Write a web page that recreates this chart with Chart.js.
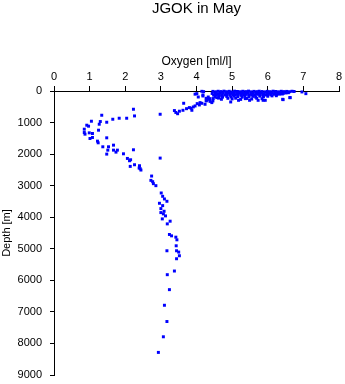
<!DOCTYPE html>
<html><head><meta charset="utf-8">
<script src="https://cdn.jsdelivr.net/npm/chart.js@4"></script>
<style>html,body{margin:0;padding:0;background:#fff}#wrap{width:345px;height:384px}</style>
</head><body><div id="wrap"><canvas id="c" width="345" height="384"></canvas></div>
<script>
// ---- data: [oxygen ml/l, depth m] ----
const chartTitle = 'JGOK in May';
const xTitle = 'Oxygen [ml/l]';
const yTitle = 'Depth [m]';
const oxygenTicks = [0, 1, 2, 3, 4, 5, 6, 7, 8];
const depthTicks = [0, 1000, 2000, 3000, 4000, 5000, 6000, 7000, 8000, 9000];

const surfaceRowA = [[4.46,12],[4.54,25],[4.61,8],[4.69,18],[4.77,5],[4.84,22],[4.92,10],[5.00,28],[5.07,6],[5.15,15],[5.23,24],[5.30,9],[5.38,19],[5.46,4],[5.53,26],[5.61,12],[5.69,20],[5.76,7],[5.84,17],[5.92,27],[5.99,11],[6.07,21],[6.15,6],[6.22,16],[6.30,25],[6.38,9],[6.45,19],[6.53,13],[6.61,23],[6.68,8],[6.74,15]];
const surfaceRowB = [[4.44,78],[4.52,62],[4.60,85],[4.67,70],[4.75,58],[4.83,88],[4.90,66],[4.98,75],[5.06,60],[5.13,82],[5.21,68],[5.29,57],[5.36,79],[5.44,64],[5.52,86],[5.59,72],[5.67,59],[5.75,77],[5.82,65],[5.90,84],[5.98,61],[6.05,74],[6.13,56],[6.21,80],[6.28,67],[6.36,58],[6.44,71],[6.51,62],[6.58,54]];
const surfaceRowC = [[4.48,130],[4.56,112],[4.63,138],[4.71,118],[4.79,126],[4.86,108],[4.94,135],[5.02,115],[5.09,128],[5.17,110],[5.25,137],[5.32,120],[5.40,106],[5.48,132],[5.55,116],[5.63,124],[5.71,105],[5.78,134],[5.86,113],[5.94,127],[6.01,109],[6.09,121],[6.17,104],[6.25,116],[6.33,100],[6.41,95]];
const surfaceRowD = [[4.52,182],[4.64,165],[4.73,195],[4.85,172],[4.97,188],[5.05,162],[5.16,178],[5.28,196],[5.36,168],[5.47,185],[5.58,170],[5.66,192],[5.78,163],[5.88,180],[6.00,166],[6.12,155],[6.24,150]];
const surfaceRowE = [[4.47,240],[4.62,225],[4.70,262],[4.88,232],[5.00,250],[5.10,228],[5.24,266],[5.41,236],[5.55,255],[5.69,230],[5.84,244]];
const surfaceOutliers = [[4.57,210],[4.96,347],[5.18,295],[5.37,242],[5.49,295],[5.73,295],[5.87,295],[5.93,295],[6.42,263],[6.43,274],[6.62,210],[6.63,210],[6.96,30],[7.07,84],[4.01,84],[4.18,126],[4.20,21],[4.15,10],[3.96,100],[4.05,190],[4.18,158],[4.27,232],[4.33,190],[4.29,295],[4.38,242]];
const thermocline = [[3.38,620],[3.42,680],[3.47,720],[3.52,640],[3.62,611],[3.64,389],[3.72,560],[3.80,526],[3.85,547],[3.87,611],[3.91,505],[3.96,474],[4.02,400],[4.08,442],[4.10,368],[4.15,390],[4.24,421],[4.27,316],[4.33,263],[4.38,330],[4.43,368],[4.46,316]];
const minimumZone = [[2.23,578],[2.26,790],[2.04,863],[1.83,863],[1.65,895],[1.48,990],[1.34,768],[1.30,968],[1.27,1053],[1.05,958],[0.92,1084],[0.97,1115],[0.85,1210],[0.85,1316],[0.87,1368],[0.99,1326],[1.08,1347],[1.08,1473],[1.01,1505],[1.25,1242],[1.48,1484],[1.22,1589],[1.24,1642],[1.37,1768],[1.53,1768],[1.67,1716],[1.51,1874],[1.48,2000],[1.67,1874],[1.78,1874],[1.74,1937],[1.95,1990],[2.23,1863],[2.06,2137],[2.12,2210],[2.15,2179],[2.26,2337],[2.14,2389],[2.40,2368],[2.42,2463],[2.44,2505],[2.39,2442],[2.74,2695],[2.72,2832],[2.77,2874],[2.79,2937],[2.86,3000],[2.98,2126],[2.98,737]];
const deepWater = [[3.01,3232],[3.05,3337],[3.10,3421],[3.17,3495],[2.96,3558],[3.05,3632],[3.00,3726],[3.09,3811],[3.00,3853],[3.07,3895],[3.13,3958],[3.04,4053],[3.26,4126],[3.18,4211],[3.24,4547],[3.30,4590],[3.42,4632],[3.45,4716],[3.43,4905],[3.17,5063],[3.44,5063],[3.50,5105],[3.52,5221],[3.44,5316],[3.38,5705],[3.18,5821],[3.24,6295],[3.10,6790],[3.17,7305],[3.07,7789],[2.93,8284]];

const allPairs = [].concat(surfaceRowA, surfaceRowB, surfaceRowC, surfaceRowD, surfaceRowE, surfaceOutliers, thermocline, minimumZone, deepWater);
const points = allPairs.map(p => ({x: p[0], y: p[1]}));

const FONT = 'Liberation Sans, Arial, Helvetica, sans-serif';
new Chart(document.getElementById('c'), {
  type: 'scatter',
  data: { datasets: [{ data: points, pointStyle: 'rect', pointRadius: 2.1, backgroundColor: '#0000ff', borderWidth: 0, clip: false }] },
  options: {
    responsive: false, animation: false,
    layout: { padding: { left: 0, right: 6, top: 0, bottom: 9 } },
    plugins: {
      legend: { display: false }, tooltip: { enabled: false },
      title: { display: true, fullSize: false, text: chartTitle, color: '#000', font: { family: FONT, size: 15, weight: 'normal', lineHeight: 1 }, padding: { top: 1, bottom: 0 } }
    },
    scales: {
      x: {
        type: 'linear', position: 'top', min: oxygenTicks[0], max: oxygenTicks[oxygenTicks.length - 1],
        afterBuildTicks: s => { s.ticks = oxygenTicks.map(v => ({ value: v })); },
        ticks: { color: '#000', font: { family: FONT, size: 11 }, padding: 2, maxRotation: 0, autoSkip: false },
        grid: { drawOnChartArea: false, drawTicks: true, tickLength: 5, color: '#000', lineWidth: 1 },
        border: { color: '#000', width: 1 },
        title: { display: true, text: xTitle, color: '#000', font: { family: FONT, size: 12 }, padding: { top: 38, bottom: 0 } },
        afterFit: s => { s.height = 75; s.paddingLeft = 0; s.paddingRight = 0; }
      },
      y: {
        type: 'linear', reverse: true, min: depthTicks[0], max: depthTicks[depthTicks.length - 1],
        afterBuildTicks: s => { s.ticks = depthTicks.map(v => ({ value: v })); },
        ticks: { color: '#000', font: { family: FONT, size: 11 }, padding: 8, autoSkip: false, callback: v => String(v) },
        grid: { drawOnChartArea: false, drawTicks: true, tickLength: 4, color: '#000', lineWidth: 1 },
        border: { color: '#000', width: 1 },
        title: { display: true, text: yTitle, color: '#000', font: { family: FONT, size: 11 }, padding: { top: 0, bottom: 0 } },
        afterFit: s => { s.width = 54; s.paddingTop = 0; s.paddingBottom = 0; }
      }
    }
  }
});
</script></body></html>
